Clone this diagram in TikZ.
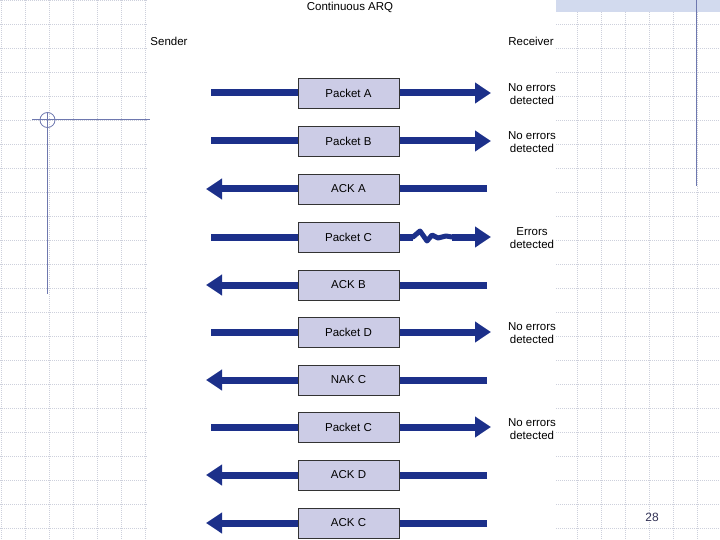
\documentclass[tikz,border=0pt]{standalone}
\usepackage{fontspec}
\setmainfont{Liberation Sans}
\usetikzlibrary{arrows.meta}
\pgfdeclarelayer{bg}
\pgfdeclarelayer{flows}
\pgfsetlayers{bg,flows,main}
\definecolor{gridc}{RGB}{205,208,220}
\definecolor{decor}{RGB}{110,120,175}
\definecolor{arrowc}{RGB}{28,48,138}
\definecolor{boxc}{RGB}{204,204,230}
\definecolor{hatchc}{RGB}{210,218,238}
\definecolor{numc}{RGB}{50,50,85}
\tikzset{
  msgbox/.style={draw=black!80, line width=0.8pt, fill=boxc, minimum width=101pt, minimum height=30pt, inner sep=0pt, font=\fontsize{11.5}{13}\selectfont},
  flow/.style={draw=arrowc, line width=7pt},
  tip/.style={-{Triangle[length=16pt,width=20pt]}},
  lbl/.style={font=\fontsize{11.5}{13.5}\selectfont, align=center, inner sep=0pt},
}
\begin{document}
\begin{tikzpicture}[x=1pt,y=-1pt]
\useasboundingbox (0,0) rectangle (720,540);
\begin{pgfonlayer}{bg}
% grid
\foreach \i in {0,...,30} {\draw[gridc, line width=0.6pt, dash pattern=on 1pt off 1pt] ({24*\i+1},0) -- ({24*\i+1},540);}
\foreach \j in {0,...,23} {\draw[gridc, line width=0.6pt, dash pattern=on 1pt off 1pt] (0,{24*\j}) -- (720,{24*\j});}
% white panel and hatch band
\fill[white] (148,0) rectangle (556,540);
\fill[hatchc] (556,0) rectangle (720,12);
\end{pgfonlayer}
% decorations
\draw[decor, line width=1pt] (32,119.5) -- (150,119.5);
\draw[decor, line width=1pt] (47.5,112) -- (47.5,294);
\draw[decor, line width=0.8pt] (47.5,120) circle (7.5);
\draw[decor, line width=1pt] (696.5,0) -- (696.5,186);
% headings
\node[lbl] (title) at (350,7) {Continuous ARQ};
\node[lbl] (snd) at (169,41) {Sender};
\node[lbl] (rcv) at (531,41) {Receiver};
% boxes
\node[msgbox] (b1) at (348.5,93) {Packet A};
\node[msgbox] (b2) at (348.5,141) {Packet B};
\node[msgbox] (b3) at (348.5,189) {ACK A};
\node[msgbox] (b4) at (348.5,237) {Packet C};
\node[msgbox] (b5) at (348.5,285) {ACK B};
\node[msgbox] (b6) at (348.5,332) {Packet D};
\node[msgbox] (b7) at (348.5,380) {NAK C};
\node[msgbox] (b8) at (348.5,427) {Packet C};
\node[msgbox] (b9) at (348.5,475) {ACK D};
\node[msgbox] (b10) at (348.5,523) {ACK C};
% end points
\foreach \n/\y in {1/93,2/141,4/237,6/332,8/427} {
  \coordinate (s\n) at (211,\y);
  \coordinate (r\n) at (491,\y);
}
\foreach \n/\y in {3/189,5/285,7/380,9/475,10/523} {
  \coordinate (s\n) at (206,\y);
  \coordinate (r\n) at (487,\y);
}
\coordinate (z1) at (413,237);
\coordinate (z2) at (452,237);
\begin{pgfonlayer}{flows}
\foreach \n in {1,2,6,8} {\draw[flow, tip] (s\n) -- (r\n);}
\foreach \n in {3,5,7,9,10} {\draw[flow, tip] (r\n) -- (s\n);}
\draw[flow] (s4) -- (b4.west);
\draw[flow] (b4.east) -- (z1);
\draw[draw=arrowc, line width=5pt, line join=round, line cap=round] (z1) -- (420,231) -- (427,241) -- (432,235) -- (438,238) -- (446,236) -- (z2);
\draw[flow, tip] (z2) -- (r4);
\end{pgfonlayer}
% receiver labels
\node[lbl] (l1) at (532,94) {No errors\\detected};
\node[lbl] (l2) at (532,142) {No errors\\detected};
\node[lbl] (l4) at (532,238) {Errors\\detected};
\node[lbl] (l6) at (532,333) {No errors\\detected};
\node[lbl] (l8) at (532,429) {No errors\\detected};
% page number
\node[font=\fontsize{12}{14}\selectfont, text=numc, inner sep=0pt] (pg) at (652,517) {28};
\end{tikzpicture}
\end{document}
